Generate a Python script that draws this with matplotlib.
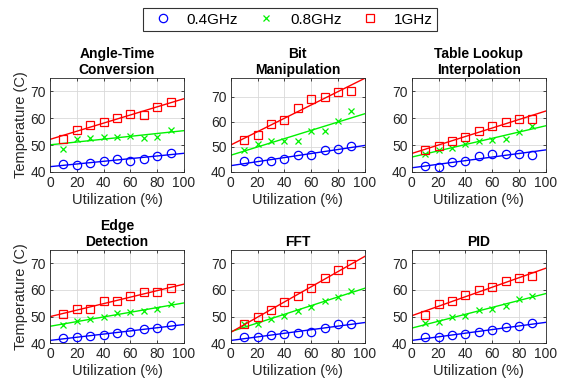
import numpy as np
import matplotlib
matplotlib.use("Agg")
import matplotlib.pyplot as plt

plt.rcParams['font.family'] = ['Liberation Sans', 'DejaVu Sans']

util = [10, 20, 30, 40, 50, 60, 70, 80, 90]
titles = ["Angle-Time\nConversion", "Bit\nManipulation", "Table Lookup\nInterpolation",
          "Edge\nDetection", "FFT", "PID"]
series_labels = ["0.4GHz", "0.8GHz", "1GHz"]

t04 = [
    [43.1, 42.5, 43.5, 44.0, 45.0, 44.0, 45.0, 46.0, 47.2],
    [44.2, 44.4, 44.2, 45.0, 46.6, 46.8, 48.6, 49.0, 50.2],
    [42.1, 41.9, 43.7, 44.1, 45.9, 46.6, 46.6, 46.6, 46.5],
    [42.1, 42.4, 42.9, 43.0, 43.8, 44.1, 45.5, 45.8, 46.9],
    [42.4, 42.4, 43.0, 43.5, 43.9, 44.4, 45.6, 47.3, 47.3],
    [42.3, 42.4, 43.0, 43.4, 44.1, 45.0, 46.0, 46.5, 47.5],
]
t08 = [
    [48.5, 52.4, 52.7, 53.1, 53.1, 53.3, 52.8, 53.1, 55.8],
    [48.9, 51.3, 52.5, 52.5, 52.5, 56.2, 56.2, 60.3, 64.2],
    [46.8, 48.1, 49.0, 50.6, 51.5, 52.1, 52.2, 54.9, 57.2],
    [46.8, 48.5, 49.1, 49.8, 51.3, 51.6, 52.3, 52.9, 54.6],
    [47.1, 47.3, 49.0, 50.3, 52.1, 53.8, 55.8, 57.5, 59.6],
    [47.6, 47.9, 49.8, 50.4, 52.5, 52.9, 54.1, 56.5, 57.8],
]
t10 = [
    [52.4, 55.8, 57.4, 58.7, 60.1, 61.5, 61.1, 64.3, 66.2],
    [52.9, 54.6, 59.3, 60.9, 65.6, 69.0, 69.9, 71.9, 72.5],
    [48.3, 49.6, 51.5, 53.1, 55.1, 57.3, 58.8, 59.6, 59.8],
    [50.9, 52.8, 52.9, 55.8, 55.8, 57.6, 59.1, 59.1, 60.9],
    [47.4, 49.8, 52.4, 55.5, 57.8, 60.8, 64.4, 67.4, 69.6],
    [50.5, 54.6, 55.9, 58.0, 60.0, 61.0, 63.4, 64.5, 65.3],
]
ytop = [75, 77.5, 75, 75, 75, 75]

W, H = 562, 381
fig = plt.figure(figsize=(W / 100, H / 100), dpi=100)

lefts = [50, 230.7, 411.7]
rows = [(78, 172), (250, 343.3)]
colors = [(0, 0, 1), (0, 0.95, 0), (1, 0, 0)]
markers = ['o', 'x', 's']
gray = (0.15, 0.15, 0.15)

handles = []
for i in range(6):
    r, c = divmod(i, 3)
    x0 = lefts[c]
    y0, y1 = rows[r]
    ax = fig.add_axes([x0 / W, 1 - y1 / H, 134 / W, (y1 - y0) / H])
    xs = np.array(util, dtype=float)
    for k, data in enumerate([t04[i], t08[i], t10[i]]):
        ys = np.array(data)
        if markers[k] == 'x':
            h, = ax.plot(xs, ys, linestyle='none', marker='x', color=colors[k],
                         markersize=5, markeredgewidth=0.9)
        else:
            h, = ax.plot(xs, ys, linestyle='none', marker=markers[k], color=colors[k],
                         markerfacecolor='none', markersize=6 if markers[k] == 'o' else 5.5,
                         markeredgewidth=0.9)
        p = np.polyfit(xs, ys, 1)
        xf = np.array([0.0, 100.0])
        ax.plot(xf, np.polyval(p, xf), color=colors[k], linewidth=1.0)
        if i == 0:
            handles.append(h)
    ax.set_xlim(0, 100)
    ax.set_ylim(40, ytop[i])
    ax.set_xticks([0, 20, 40, 60, 80, 100])
    ax.set_yticks([40, 50, 60, 70])
    ax.grid(True, color=(0.85, 0.85, 0.85), linewidth=0.6)
    ax.set_axisbelow(True)
    ax.tick_params(direction='in', length=2.5, width=0.6, colors=gray, labelsize=10,
                   top=True, right=True, pad=3)
    for s in ax.spines.values():
        s.set_color(gray)
        s.set_linewidth(0.6)
    ax.set_title(titles[i], fontsize=10, fontweight='bold', pad=3, linespacing=1.15)
    ax.set_xlabel("Utilization (%)", fontsize=10.5, color=gray, labelpad=2)
    if c == 0:
        ax.set_ylabel("Temperature (C)", fontsize=10.5, color=gray, labelpad=2)

leg = fig.legend(handles, series_labels, ncol=3, loc='center',
                 bbox_to_anchor=(290 / W, 1 - 19.5 / H), fontsize=11,
                 frameon=True, fancybox=False, edgecolor='black',
                 handlelength=2.0, handletextpad=0.55, columnspacing=0.85,
                 borderpad=0.3)
leg.get_frame().set_linewidth(0.8)

fig.savefig("out.png", dpi=100)
